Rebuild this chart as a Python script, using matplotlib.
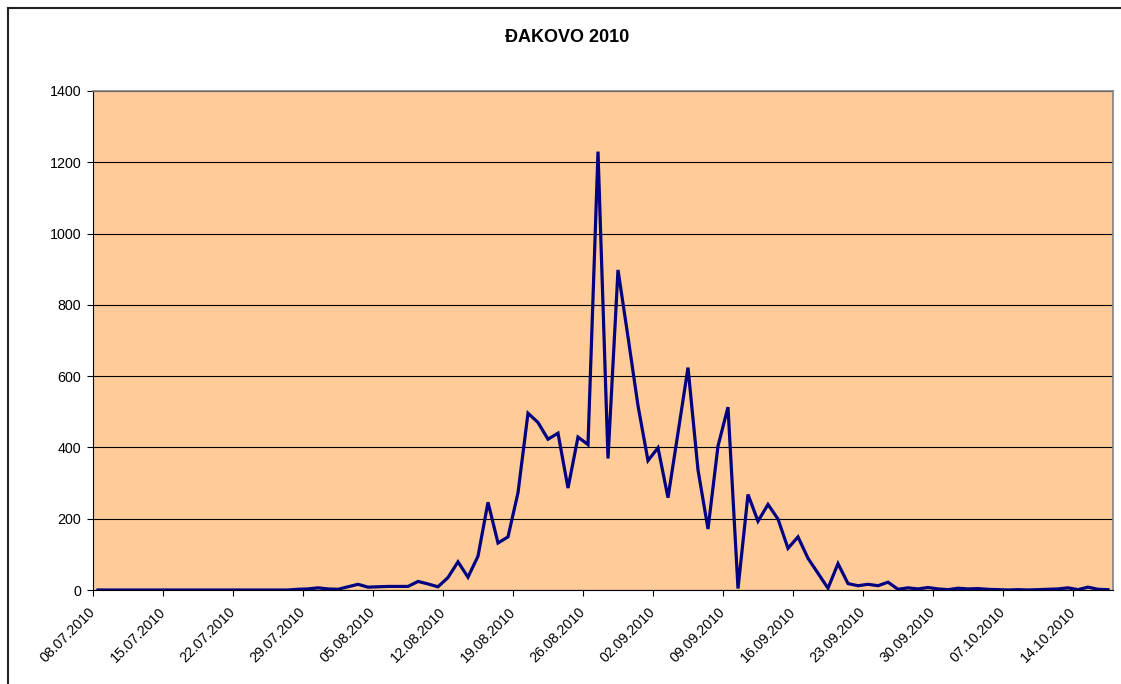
import datetime as dt

import numpy as np
import matplotlib
matplotlib.use("Agg")
import matplotlib.pyplot as plt
from matplotlib.lines import Line2D

plt.rcParams['font.family'] = ['Liberation Sans', 'DejaVu Sans']

# daily values from 08.07.2010
start = dt.date(2010, 7, 8)
values = [0, 0, 0, 0, 0, 0, 0, 0, 0, 0,
          0, 0, 0, 0, 0, 0, 0, 0, 0, 0,
          2, 3, 6, 3, 2, 9, 16, 8, 9, 10,
          10, 10, 24, 17, 9, 35, 79, 36, 95, 246,
          132, 149, 273, 496, 470, 423, 440, 286, 429, 408,
          1230, 369, 898, 710, 517, 363, 399, 259, 441, 624,
          337, 171, 404, 513, 4, 268, 193, 240, 199, 117,
          149, 89, 47, 5, 74, 18, 12, 16, 12, 22,
          2, 6, 3, 7, 3, 1, 5, 3, 4, 2,
          1, 0, 1, 0, 1, 2, 3, 6, 1, 8,
          2, 1]
tick_days = list(range(0, len(values), 7))
tick_labels = [(start + dt.timedelta(days=d)).strftime('%d.%m.%Y') for d in tick_days]

W, H = 1121, 684
fig = plt.figure(figsize=(W / 100, H / 100), dpi=100)
ax = fig.add_axes([93 / W, (H - 590) / H, 1020 / W, 499 / H])
ax.set_facecolor('#FFCC99')

x = np.arange(len(values)) + 0.5
ax.plot(x, values, color='#000080', lw=2.3, solid_joinstyle='miter')

ax.set_xlim(0, len(values))
ax.set_ylim(0, 1400)
ax.set_yticks(range(0, 1401, 200))
ax.yaxis.grid(True, color='black', lw=0.8)
ax.set_axisbelow(True)

ax.set_xticks(tick_days)
ax.set_xticklabels(tick_labels, rotation=45, ha='right', va='center',
                   rotation_mode='anchor')
ax.tick_params(axis='both', direction='out', length=4.5, width=0.8,
               labelsize=10.3, color='black')
ax.tick_params(axis='x', pad=10)
ax.tick_params(axis='y', pad=4)

for side in ('left', 'bottom'):
    ax.spines[side].set_color('black')
    ax.spines[side].set_linewidth(0.8)
for side in ('top', 'right'):
    ax.spines[side].set_color('#808080')
    ax.spines[side].set_linewidth(1.2)

fig.text(567 / W, 1 - 37 / H, 'ĐAKOVO 2010', ha='center', va='center',
         fontsize=13, fontweight='bold')

# chart area border (top and left visible)
bx, by = 7.5 / W, 1 - 7.5 / H
fig.add_artist(Line2D([bx, 1.0], [by, by], color='#222222', lw=1.5))
fig.add_artist(Line2D([bx, bx], [0.0, by], color='#222222', lw=1.5))

fig.savefig('out.png', dpi=100)
